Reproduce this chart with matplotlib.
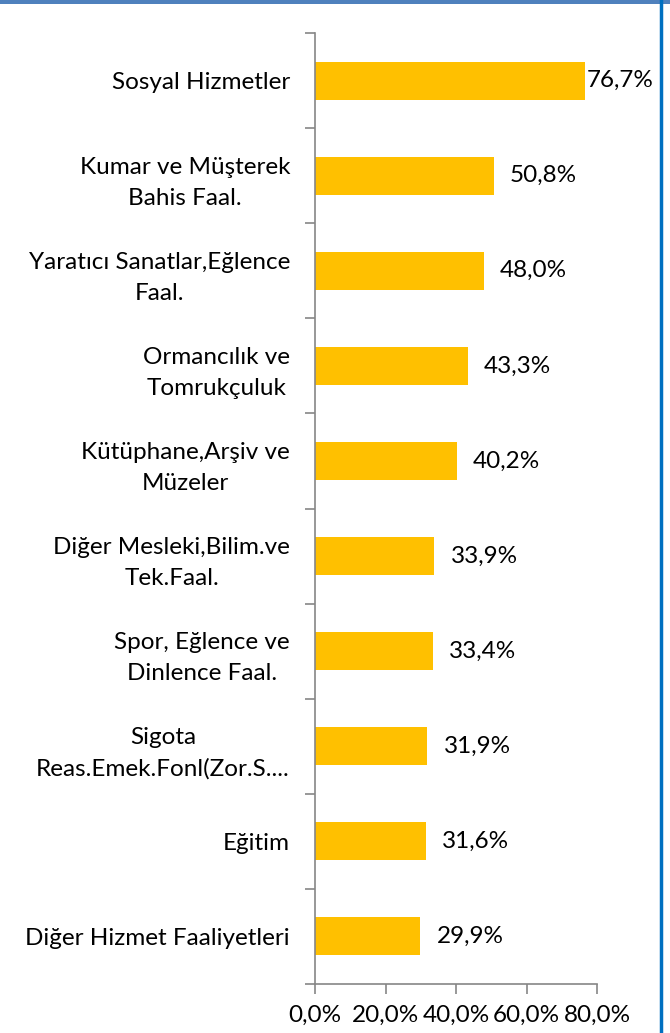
import matplotlib
matplotlib.use("Agg")
import matplotlib.pyplot as plt
from matplotlib.ticker import FixedLocator, FuncFormatter
from matplotlib.lines import Line2D
from matplotlib.patches import Rectangle

categories = [
    "Sosyal Hizmetler",
    "Kumar ve Müşterek\nBahis Faal.",
    "Yaratıcı Sanatlar,Eğlence\nFaal.",
    "Ormancılık ve\nTomrukçuluk",
    "Kütüphane,Arşiv ve\nMüzeler",
    "Diğer Mesleki,Bilim.ve\nTek.Faal.",
    "Spor, Eğlence ve\nDinlence Faal.",
    "Sigota\nReas.Emek.Fonl(Zor.S....",
    "Eğitim",
    "Diğer Hizmet Faaliyetleri",
]
values = [76.7, 50.8, 48.0, 43.3, 40.2, 33.9, 33.4, 31.9, 31.6, 29.9]
x_ticks = [0, 20, 40, 60, 80]

plt.rcParams['font.family'] = ['Lato', 'DejaVu Sans']
FS = 17.5
GRAY = "#868686"

fig = plt.figure(figsize=(6.70, 10.33), dpi=100)
ax = fig.add_axes([315/670, 49/1033, 282/670, 951/1033])

n = len(categories)
ypos = list(range(n))
ax.barh(ypos, values, height=0.4, color="#FFC000", zorder=2)
ax.set_xlim(0, 80)
ax.set_ylim(n - 0.5, -0.5)

# category labels at centres (minor), ticks at boundaries (major)
ax.yaxis.set_major_locator(FixedLocator([i - 0.5 for i in range(n + 1)]))
ax.yaxis.set_major_formatter(FuncFormatter(lambda v, p: ""))
ax.yaxis.set_minor_locator(FixedLocator(ypos))
ax.set_yticklabels(categories, minor=True)
ax.tick_params(axis='y', which='minor', length=0, pad=18, labelsize=FS)
ax.tick_params(axis='y', which='major', length=7, width=1.2, color=GRAY, direction='out')
for t in ax.get_yticklabels(minor=True):
    t.set_multialignment('center')
    t.set_linespacing(1.6)

ax.xaxis.set_major_locator(FixedLocator(x_ticks))
ax.xaxis.set_major_formatter(FuncFormatter(lambda v, p: f"{v:.1f}%".replace(".", ",")))
ax.tick_params(axis='x', length=7, width=1.2, color=GRAY, direction='out', labelsize=FS, pad=8)

for s in ['top', 'right']:
    ax.spines[s].set_visible(False)
for s in ['left', 'bottom']:
    ax.spines[s].set_color(GRAY)
    ax.spines[s].set_linewidth(1.2)

# data labels
for i, v in enumerate(values):
    off = 1 if v > 70 else 16
    ax.annotate(f"{v:.1f}%".replace(".", ","), xy=(v, i), xytext=(off, 0),
                textcoords='offset pixels', ha='left', va='center', fontsize=FS,
                annotation_clip=False)

# frame borders
fig.add_artist(Rectangle((0, 1 - 4/1033), 1, 4/1033, transform=fig.transFigure,
                         facecolor="#4F81BD", edgecolor='none'))
fig.add_artist(Line2D([661/670, 661/670], [0, 1], transform=fig.transFigure,
                      color="#0070C0", linewidth=2.5))

fig.savefig("out.png", dpi=100)
